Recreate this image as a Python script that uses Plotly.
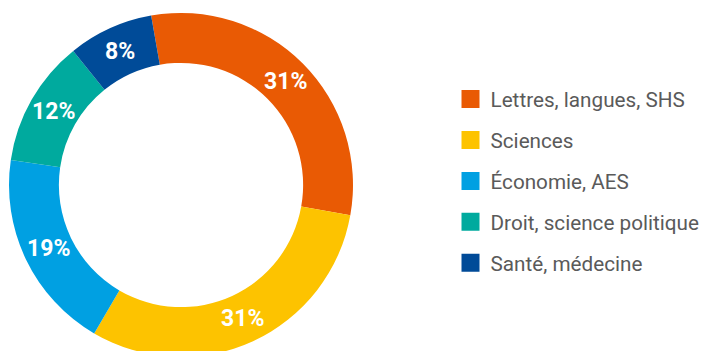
import math
import plotly.graph_objects as go

labels = ["Lettres, langues, SHS", "Sciences", "Économie, AES", "Droit, science politique", "Santé, médecine"]
values = [30.6, 30.6, 18.9, 11.9, 8.0]
colors = ["#E95A04", "#FDC300", "#00A0E2", "#00AA9E", "#004B98"]

W, H = 708, 354
ROT = -10
HOLE = 0.71
# pie box in pixels (figure coords): center and radius
cx, cy, r = 173, 177, 172

fig = go.Figure()
fig.add_trace(go.Pie(
    labels = labels, values = values, sort = False, direction = "clockwise",
    rotation = ROT, hole = HOLE,
    marker = dict(colors = colors, line = dict(width = 0)),
    textinfo = "none", showlegend = False,
    domain = dict(x = [(cx - r) / W, (cx + r) / W], y = [0, 1])
))

# percentage labels at the middle of each slice, horizontal
total = sum(values)
start = ROT
rm = r * (1 + HOLE) / 2
for v in values:
    sweep = 360 * v / total
    mid = math.radians(start + sweep / 2)
    start += sweep
    fig.add_annotation(
        x = (cx + rm * math.sin(mid)) / W, y = 1 - (cy - rm * math.cos(mid)) / H,
        xref = "paper", yref = "paper", xanchor = "center", yanchor = "middle",
        showarrow = False, text = "%d%%" % round(100 * v / total),
        font = dict(family = "Roboto", size = 23, color = "white", weight = "bold")
    )

# legend entries drawn as dummy square markers so the row spacing can be set
for i, (lab, col) in enumerate(zip(labels, colors)):
    fig.add_trace(go.Scatter(
        x = [None], y = [None], mode = "markers", name = lab,
        marker = dict(symbol = "square", size = 16, color = col, line = dict(width = 2, color = col)),
        legendgroup = "g%d" % i, showlegend = True
    ))

fig.update_layout(
    width = W, height = H,
    margin = dict(l = 0, r = 0, t = 0, b = 0),
    paper_bgcolor = "white", plot_bgcolor = "white",
    xaxis = dict(visible = False, domain = [0.6, 0.61]),
    yaxis = dict(visible = False),
    legend = dict(x = 0.625, y = 0.511, xanchor = "left", yanchor = "middle",
                  font = dict(family = "Roboto", size = 20.7, color = "#5A5A5A"),
                  tracegroupgap = 11, itemclick = False, itemdoubleclick = False)
)

fig.write_html("out.html")
